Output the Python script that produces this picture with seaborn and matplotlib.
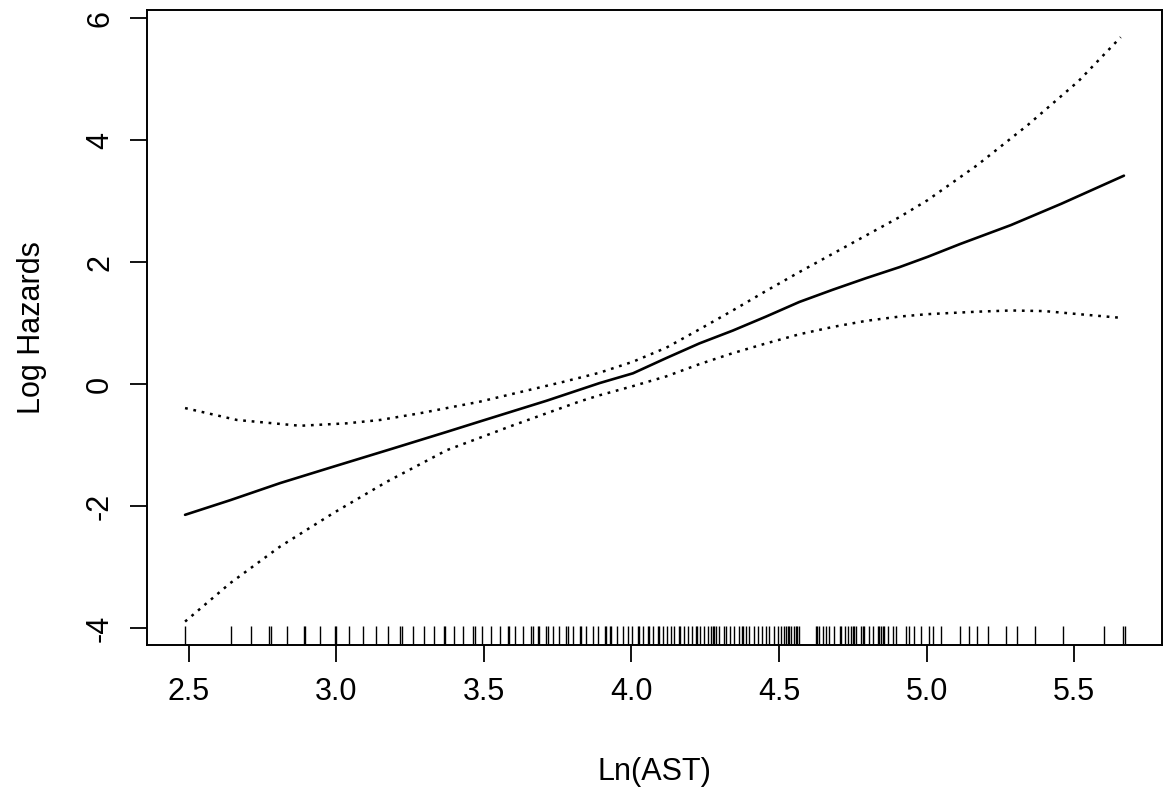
import matplotlib
matplotlib.use("Agg")
import matplotlib.pyplot as plt
import seaborn as sns
import pandas as pd

# Fitted log hazard (solid) with its confidence band (dotted)
fit_x = [2.487, 2.640, 2.809, 2.990, 3.193, 3.374, 3.486, 3.712, 3.892,
         4.005, 4.118, 4.230, 4.343, 4.456, 4.569, 4.682, 4.795, 4.908,
         5.004, 5.114, 5.286, 5.457, 5.669]
fit_y = [-2.14, -1.90, -1.62, -1.35, -1.05, -0.78, -0.61, -0.27, 0.02,
         0.18, 0.43, 0.67, 0.88, 1.11, 1.35, 1.55, 1.74, 1.92,
         2.09, 2.30, 2.61, 2.96, 3.42]

upper_x = [2.487, 2.663, 2.877, 3.035, 3.148, 3.283, 3.486, 3.769, 3.892,
           4.005, 4.118, 4.230, 4.343, 4.456, 4.569, 4.682, 4.795, 4.908,
           5.004, 5.171, 5.343, 5.515, 5.658]
upper_y = [-0.39, -0.585, -0.68, -0.64, -0.585, -0.475, -0.285, 0.04, 0.19,
           0.37, 0.60, 0.90, 1.21, 1.53, 1.84, 2.14, 2.44, 2.74,
           3.02, 3.59, 4.25, 4.97, 5.69]

lower_x = [2.487, 2.640, 2.809, 2.990, 3.170, 3.374, 3.600, 3.825, 3.892,
           4.005, 4.118, 4.230, 4.343, 4.456, 4.569, 4.682, 4.795, 4.908,
           5.004, 5.171, 5.286, 5.400, 5.515, 5.658]
lower_y = [-3.89, -3.26, -2.66, -2.11, -1.60, -1.08, -0.67, -0.28, -0.18,
           -0.03, 0.13, 0.33, 0.51, 0.67, 0.82, 0.94, 1.04, 1.11,
           1.15, 1.19, 1.21, 1.20, 1.15, 1.09]

# Observed Ln(AST) values shown as a rug along the bottom
rug_x = [
    2.486, 2.641, 2.709, 2.772, 2.778, 2.833, 2.889, 2.895, 2.944, 2.994,
    2.999, 3.043, 3.090, 3.133, 3.175, 3.217, 3.222, 3.260, 3.296, 3.330,
    3.364, 3.369, 3.400, 3.429, 3.463, 3.468, 3.495, 3.525, 3.553, 3.581,
    3.586, 3.606, 3.632, 3.660, 3.665, 3.683, 3.688, 3.711, 3.716, 3.734,
    3.756, 3.779, 3.784, 3.801, 3.824, 3.829, 3.847, 3.869, 3.888, 3.909,
    3.914, 3.926, 3.931, 3.950, 3.970, 3.987, 4.002, 4.021, 4.025, 4.038,
    4.055, 4.059, 4.072, 4.089, 4.093, 4.106, 4.119, 4.134, 4.145, 4.162,
    4.166, 4.179, 4.190, 4.205, 4.218, 4.222, 4.232, 4.247, 4.258, 4.269,
    4.275, 4.280, 4.286, 4.297, 4.314, 4.321, 4.335, 4.349, 4.366, 4.375,
    4.379, 4.388, 4.399, 4.414, 4.428, 4.441, 4.456, 4.467, 4.482, 4.495,
    4.507, 4.518, 4.523, 4.529, 4.535, 4.540, 4.552, 4.556, 4.560, 4.569,
    4.626, 4.630, 4.637, 4.648, 4.659, 4.671, 4.688, 4.705, 4.710, 4.722,
    4.733, 4.745, 4.750, 4.755, 4.762, 4.778, 4.783, 4.789, 4.806, 4.817,
    4.834, 4.840, 4.845, 4.852, 4.857, 4.868, 4.885, 4.896, 4.930, 4.941,
    4.958, 4.980, 5.009, 5.023, 5.048, 5.114, 5.143, 5.172, 5.208, 5.268,
    5.307, 5.368, 5.461, 5.601, 5.667, 5.672,
]

x_ticks = [2.5, 3.0, 3.5, 4.0, 4.5, 5.0, 5.5]
x_tick_labels = ["2.5", "3.0", "3.5", "4.0", "4.5", "5.0", "5.5"]
y_ticks = [-4, -2, 0, 2, 4, 6]
y_tick_labels = ["-4", "-2", "0", "2", "4", "6"]

sns.set_theme(style="white")
plt.rcParams["font.family"] = ["Liberation Sans", "DejaVu Sans"]
plt.rcParams["axes.unicode_minus"] = False

W, H = 1167, 802
fig = plt.figure(figsize=(W / 100, H / 100), dpi=100)
left, right, top, bottom = 147, 1162, 10, 645
ax = fig.add_axes([left / W, 1 - bottom / H, (right - left) / W, (bottom - top) / H])

fit_df = pd.DataFrame({"x": fit_x, "y": fit_y})
up_df = pd.DataFrame({"x": upper_x, "y": upper_y})
lo_df = pd.DataFrame({"x": lower_x, "y": lower_y})

dotted = (0, (1.1, 2.3))
sns.lineplot(data=fit_df, x="x", y="y", ax=ax, color="black", lw=1.9,
             solid_joinstyle="round", solid_capstyle="round")
sns.lineplot(data=up_df, x="x", y="y", ax=ax, color="black", lw=1.8, linestyle=dotted)
sns.lineplot(data=lo_df, x="x", y="y", ax=ax, color="black", lw=1.8, linestyle=dotted)
sns.rugplot(x=rug_x, ax=ax, height=0.03, color="black", lw=1.9, expand_margins=False)

ax.set_xlim(2.358, 5.798)
ax.set_ylim(-4.274, 6.136)

ax.set_xticks(x_ticks)
ax.set_xticklabels(x_tick_labels)
ax.set_yticks(y_ticks)
ax.set_yticklabels(y_tick_labels, rotation=90, va="center")

for s in ax.spines.values():
    s.set_visible(True)
    s.set_color("black")
    s.set_linewidth(1.4)

ax.tick_params(axis="both", direction="out", length=12, width=1.3,
               color="black", labelsize=22, labelcolor="black",
               bottom=True, left=True, top=False, right=False)
ax.tick_params(axis="x", pad=11)
ax.tick_params(axis="y", pad=11)

ax.set_xlabel("Ln(AST)", fontsize=22, color="black")
ax.set_ylabel("Log Hazards", fontsize=22, color="black")
ax.xaxis.set_label_coords(0.5, -0.2)
ax.xaxis.label.set_va("center")
ax.yaxis.set_label_coords(-0.113, 0.5)
ax.yaxis.label.set_va("center")

fig.savefig("out.png", dpi=100, facecolor="white")
